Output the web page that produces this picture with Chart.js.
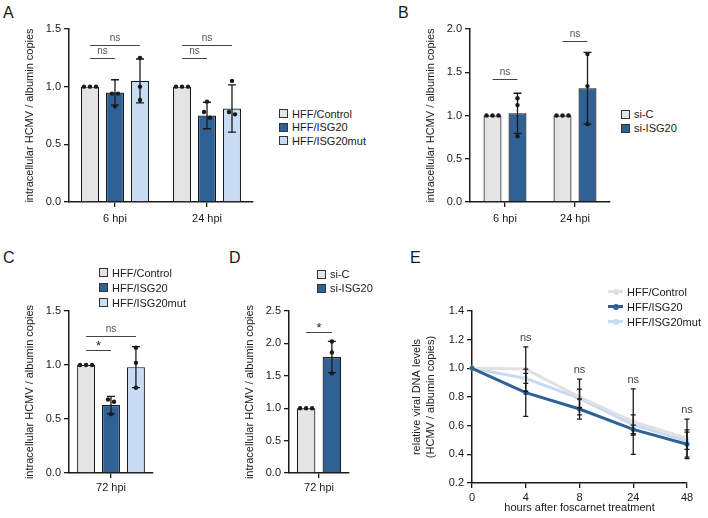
<!DOCTYPE html>
<html>
<head>
<meta charset="utf-8">
<script src="https://cdn.jsdelivr.net/npm/chart.js@4.4.1/dist/chart.umd.min.js"></script>
<style>
  body { margin: 0; width: 708px; height: 518px; position: relative; background: #fff; overflow: hidden;
         font-family: 'Liberation Sans', Arial, sans-serif; color: #1a1a1a; }
  canvas { position: absolute; }
  .letter { position: absolute; font-size: 16px; line-height: 16px; }
  .legend { position: absolute; font-size: 11px; }
  .legend .row { display: flex; align-items: center; }
  .legend .sw { width: 7px; height: 7px; border: 1px solid #333; margin-right: 4px; }
  .legend .ln { position: relative; width: 15px; height: 3px; margin-right: 4px; }
  .legend .ln i { position: absolute; left: 5px; top: -1.5px; width: 6px; height: 6px; border-radius: 50%; background: inherit; }
</style>
</head>
<body>
<div class="letter" style="left:3px;top:5px">A</div>
<div class="letter" style="left:398px;top:5px">B</div>
<div class="letter" style="left:3px;top:250px">C</div>
<div class="letter" style="left:229px;top:250px">D</div>
<div class="letter" style="left:410px;top:250px">E</div>

<canvas id="cA" width="260" height="232" style="left:0;top:0"></canvas>
<canvas id="cB" width="216" height="232" style="left:401px;top:0"></canvas>
<canvas id="cC" width="160" height="212" style="left:0;top:290px"></canvas>
<canvas id="cD" width="136" height="212" style="left:220px;top:290px"></canvas>
<canvas id="cE" width="308" height="228" style="left:400px;top:290px"></canvas>

<div class="legend" id="legA" style="left:279px;top:107px"></div>
<div class="legend" id="legB" style="left:621px;top:107px"></div>
<div class="legend" id="legC" style="left:99px;top:265px"></div>
<div class="legend" id="legD" style="left:317px;top:267px"></div>
<div class="legend" id="legE" style="left:608px;top:284px"></div>

<script>
// ---- data ----
const hffNames = ['HFF/Control', 'HFF/ISG20', 'HFF/ISG20mut'];
const siNames = ['si-C', 'si-ISG20'];

// A: HFF, 6 and 24 hpi
const timesA = ['6 hpi', '24 hpi'];
const aControl = [1.0, 1.0];
const aISG20 = [0.95, 0.75];
const aMut = [1.05, 0.81];
const aISG20Sd = [0.11, 0.115];
const aMutSd = [0.19, 0.205];
const aControlPts = [[1, 1, 1], [1, 1, 1]];
const aISG20Pts = [[0.94, 0.94, 0.83], [0.87, 0.78, 0.73]];
const aMutPts = [[1.25, 1.0, 0.885], [1.05, 0.76, 0.78]];
const aBrackets = [[0, 0, 1, 1.25, 'ns'], [0, 0, 2, 1.36, 'ns'], [1, 0, 1, 1.25, 'ns'], [1, 0, 2, 1.36, 'ns']];

// B: siRNA, 6 and 24 hpi
const timesB = ['6 hpi', '24 hpi'];
const bSiC = [1.0, 1.0];
const bSiISG20 = [1.025, 1.315];
const bSiISG20Sd = [0.232, 0.415];
const bSiCPts = [[1, 1, 1], [1, 1, 1]];
const bSiISG20Pts = [[1.2, 1.12, 0.76], [1.71, 1.34, 0.9]];
const bBrackets = [[0, 0, 1, 1.42, 'ns'], [1, 0, 1, 1.86, 'ns']];

// C: HFF, 72 hpi
const timesC = ['72 hpi'];
const cControl = [1.0];
const cISG20 = [0.63];
const cMut = [0.98];
const cISG20Sd = [0.08];
const cMutSd = [0.19];
const cControlPts = [[1, 1, 1]];
const cISG20Pts = [[0.68, 0.66, 0.545]];
const cMutPts = [[1.16, 1.02, 0.79]];
const cBrackets = [[0, 0, 1, 1.137, '*'], [0, 0, 2, 1.27, 'ns']];

// D: siRNA, 72 hpi
const timesD = ['72 hpi'];
const dSiC = [1.0];
const dSiISG20 = [1.79];
const dSiISG20Sd = [0.24];
const dSiCPts = [[1, 1, 1]];
const dSiISG20Pts = [[2.03, 1.86, 1.54]];
const dBrackets = [[0, 0, 1, 2.17, '*']];

// E: time course after foscarnet
const hoursE = ['0', '4', '8', '24', '48'];
const eControl = [1.0, 0.995, 0.80, 0.628, 0.513];
const eISG20 = [1.0, 0.83, 0.716, 0.574, 0.47];
const eMut = [1.0, 0.93, 0.79, 0.605, 0.495];
const eControlSd = [0, 0.155, 0.125, 0.228, 0.133];
const eISG20Sd = [0, 0.165, 0.07, 0.03, 0.10];
const eMutSd = [0, 0.035, 0.065, 0.07, 0.06];
const eSig = ['', 'ns', 'ns', 'ns', 'ns'];

// ---- style ----
const INK = '#1a1a1a';
const FONT = "'Liberation Sans', Arial, sans-serif";
const GREY = '#e4e4e4';
const DARK = '#2f6194';
const LIGHT = '#c8dcf4';
const LINE_GREY = '#e0e0e0';
const LINE_LIGHT = '#c5dbf4';

Chart.defaults.font.family = FONT;
Chart.defaults.font.size = 11;
Chart.defaults.color = INK;
Chart.defaults.animation = false;
Chart.defaults.plugins.legend.display = false;
Chart.defaults.plugins.tooltip.enabled = false;

function errBar(ctx, x, yTop, yBot, cap) {
  ctx.beginPath();
  ctx.moveTo(x, yTop); ctx.lineTo(x, yBot);
  ctx.moveTo(x - cap, yTop); ctx.lineTo(x + cap, yTop);
  ctx.moveTo(x - cap, yBot); ctx.lineTo(x + cap, yBot);
  ctx.stroke();
}

// spread replicate dots sideways only where they overlap
function dots(ctx, x, pys) {
  const sorted = pys.slice().sort((a, b) => a - b);
  const groups = [];
  sorted.forEach(py => {
    const g = groups[groups.length - 1];
    if (g && py - g[g.length - 1] < 6) g.push(py); else groups.push([py]);
  });
  groups.forEach(g => g.forEach((py, j) => {
    ctx.beginPath();
    ctx.arc(x + (j - (g.length - 1) / 2) * 6, py, 2.2, 0, Math.PI * 2);
    ctx.fill();
  }));
}

const barMarks = {
  id: 'barMarks',
  afterDatasetsDraw(chart, args, opts) {
    const ctx = chart.ctx, y = chart.scales.y;
    ctx.save();
    ctx.strokeStyle = INK; ctx.fillStyle = INK; ctx.lineWidth = 1.3;
    chart.data.datasets.forEach((ds, di) => {
      chart.getDatasetMeta(di).data.forEach((bar, i) => {
        const m = ds.data[i], s = ds.sd ? ds.sd[i] : 0;
        if (s) errBar(ctx, bar.x, y.getPixelForValue(m + s), y.getPixelForValue(m - s), 4);
        if (ds.pts) dots(ctx, bar.x, ds.pts[i].map(v => y.getPixelForValue(v)));
      });
    });
    (opts.brackets || []).forEach(b => {
      const x1 = chart.getDatasetMeta(b[1]).data[b[0]].x;
      const x2 = chart.getDatasetMeta(b[2]).data[b[0]].x;
      const py = Math.round(y.getPixelForValue(b[3])) + 0.5;
      ctx.strokeStyle = '#444'; ctx.lineWidth = 1;
      ctx.beginPath(); ctx.moveTo(x1, py); ctx.lineTo(x2, py); ctx.stroke();
      const star = b[4] === '*';
      ctx.fillStyle = star ? INK : '#555';
      ctx.font = (star ? '13px ' : '10px ') + FONT;
      ctx.textAlign = 'center'; ctx.textBaseline = 'bottom';
      ctx.fillText(b[4], (x1 + x2) / 2, star ? py + 2 : py - 2);
    });
    ctx.restore();
  }
};

const lineMarks = {
  id: 'lineMarks',
  afterDatasetsDraw(chart, args, opts) {
    const ctx = chart.ctx, y = chart.scales.y;
    ctx.save();
    ctx.strokeStyle = INK; ctx.lineWidth = 1.3;
    const tops = [];
    chart.data.datasets.forEach((ds, di) => {
      chart.getDatasetMeta(di).data.forEach((pt, i) => {
        const m = ds.data[i], s = ds.sd[i];
        if (!s) return;
        const top = y.getPixelForValue(m + s);
        errBar(ctx, pt.x, top, y.getPixelForValue(m - s), 2.5);
        tops[i] = Math.min(tops[i] ?? 1e9, top);
      });
    });
    ctx.fillStyle = '#444'; ctx.font = '11px ' + FONT;
    ctx.textAlign = 'center'; ctx.textBaseline = 'middle';
    const xs = chart.getDatasetMeta(0).data;
    opts.sig.forEach((t, i) => { if (t) ctx.fillText(t, xs[i].x, tops[i] - 9); });
    ctx.restore();
  }
};

function axisStyle() {
  return {
    grid: { drawOnChartArea: false, tickLength: 5, color: INK, lineWidth: 1.3 },
    border: { color: INK, width: 1.5 },
  };
}

function barChart(id, labels, datasets, yMax, xh, xPad, catPct, pad, brackets) {
  return new Chart(document.getElementById(id), {
    type: 'bar',
    data: { labels, datasets },
    options: {
      responsive: false,
      layout: { padding: pad },
      datasets: { bar: { categoryPercentage: catPct, barPercentage: 0.72, borderWidth: 1.2, borderColor: INK } },
      scales: {
        x: {
          ...axisStyle(),
          offset: true,
          grid: { offset: false, drawOnChartArea: false, tickLength: 5, color: INK, lineWidth: 1.3 },
          ticks: { padding: xPad, color: INK },
          afterFit: s => { s.height = xh; }
        },
        y: {
          ...axisStyle(),
          min: 0, max: yMax,
          ticks: { stepSize: 0.5, padding: 3, color: INK, callback: v => v.toFixed(1) },
          title: { display: true, text: 'intracellular HCMV / albumin copies', color: INK,
                   font: { size: 11 }, padding: { top: 23, bottom: 0 } },
          afterFit: s => { s.width = 69; }
        }
      },
      plugins: { barMarks: { brackets } }
    },
    plugins: [barMarks]
  });
}

function hffSets(ctrl, isg, mut, isgSd, mutSd, ctrlPts, isgPts, mutPts) {
  return [
    { label: hffNames[0], data: ctrl, pts: ctrlPts, backgroundColor: GREY },
    { label: hffNames[1], data: isg, sd: isgSd, pts: isgPts, backgroundColor: DARK },
    { label: hffNames[2], data: mut, sd: mutSd, pts: mutPts, backgroundColor: LIGHT }
  ];
}
function siSets(c, isg, isgSd, cPts, isgPts) {
  return [
    { label: siNames[0], data: c, pts: cPts, backgroundColor: GREY },
    { label: siNames[1], data: isg, sd: isgSd, pts: isgPts, backgroundColor: DARK }
  ];
}

barChart('cA', timesA, hffSets(aControl, aISG20, aMut, aISG20Sd, aMutSd, aControlPts, aISG20Pts, aMutPts),
  1.5, 30, 5, 0.815, { top: 29, right: 7, left: 0, bottom: 0 }, aBrackets);
barChart('cB', timesB, siSets(bSiC, bSiISG20, bSiISG20Sd, bSiCPts, bSiISG20Pts),
  2.0, 30, 5, 0.714, { top: 29, right: 7, left: 0, bottom: 0 }, bBrackets);
barChart('cC', timesC, hffSets(cControl, cISG20, cMut, cISG20Sd, cMutSd, cControlPts, cISG20Pts, cMutPts),
  1.5, 29, 3, 0.89, { top: 21, right: 7, left: 0, bottom: 0 }, cBrackets);
barChart('cD', timesD, siSets(dSiC, dSiISG20, dSiISG20Sd, dSiCPts, dSiISG20Pts),
  2.5, 29, 3, 0.86, { top: 21, right: 7, left: 0, bottom: 0 }, dBrackets);

new Chart(document.getElementById('cE'), {
  type: 'line',
  data: {
    labels: hoursE,
    datasets: [
      { label: hffNames[0], data: eControl, sd: eControlSd, borderColor: LINE_GREY, backgroundColor: LINE_GREY, order: 1 },
      { label: hffNames[1], data: eISG20, sd: eISG20Sd, borderColor: DARK, backgroundColor: DARK, order: 0 },
      { label: hffNames[2], data: eMut, sd: eMutSd, borderColor: LINE_LIGHT, backgroundColor: LINE_LIGHT, order: 2 }
    ]
  },
  options: {
    responsive: false,
    layout: { padding: { top: 21, right: 21, left: 0, bottom: 0 } },
    datasets: { line: { borderWidth: 3, pointRadius: 2.5, pointBorderWidth: 0, tension: 0 } },
    scales: {
      x: {
        ...axisStyle(),
        offset: false,
        ticks: { padding: 3, color: INK },
        title: { display: true, text: 'hours after foscarnet treatment', color: INK,
                 font: { size: 11 }, padding: { top: 0, bottom: 3 } },
        afterFit: s => { s.height = 35; }
      },
      y: {
        ...axisStyle(),
        min: 0.2, max: 1.4,
        ticks: { stepSize: 0.2, padding: 3, color: INK, callback: v => v.toFixed(1) },
        title: { display: true, text: ['relative viral DNA levels', '(HCMV / albumin copies)'], color: INK,
                 font: { size: 11, lineHeight: 1.3 }, padding: { top: 10, bottom: 0 } },
        afterFit: s => { s.width = 72; }
      }
    },
    plugins: { lineMarks: { sig: eSig } }
  },
  plugins: [lineMarks]
});

// ---- legends ----
function boxLegend(id, names, colors, rowH) {
  const el = document.getElementById(id);
  names.forEach((n, i) => {
    el.insertAdjacentHTML('beforeend',
      `<div class="row" style="height:${rowH}px"><span class="sw" style="background:${colors[i]}"></span>${n}</div>`);
  });
}
function lineLegend(id, names, colors, rowH) {
  const el = document.getElementById(id);
  names.forEach((n, i) => {
    el.insertAdjacentHTML('beforeend',
      `<div class="row" style="height:${rowH}px"><span class="ln" style="background:${colors[i]}"><i></i></span>${n}</div>`);
  });
}
boxLegend('legA', hffNames, [GREY, DARK, LIGHT], 13.5);
boxLegend('legB', siNames, [GREY, DARK], 14);
boxLegend('legC', hffNames, [GREY, DARK, LIGHT], 15);
boxLegend('legD', siNames, [GREY, DARK], 14);
lineLegend('legE', hffNames, [LINE_GREY, DARK, LINE_LIGHT], 15);
</script>
</body>
</html>
